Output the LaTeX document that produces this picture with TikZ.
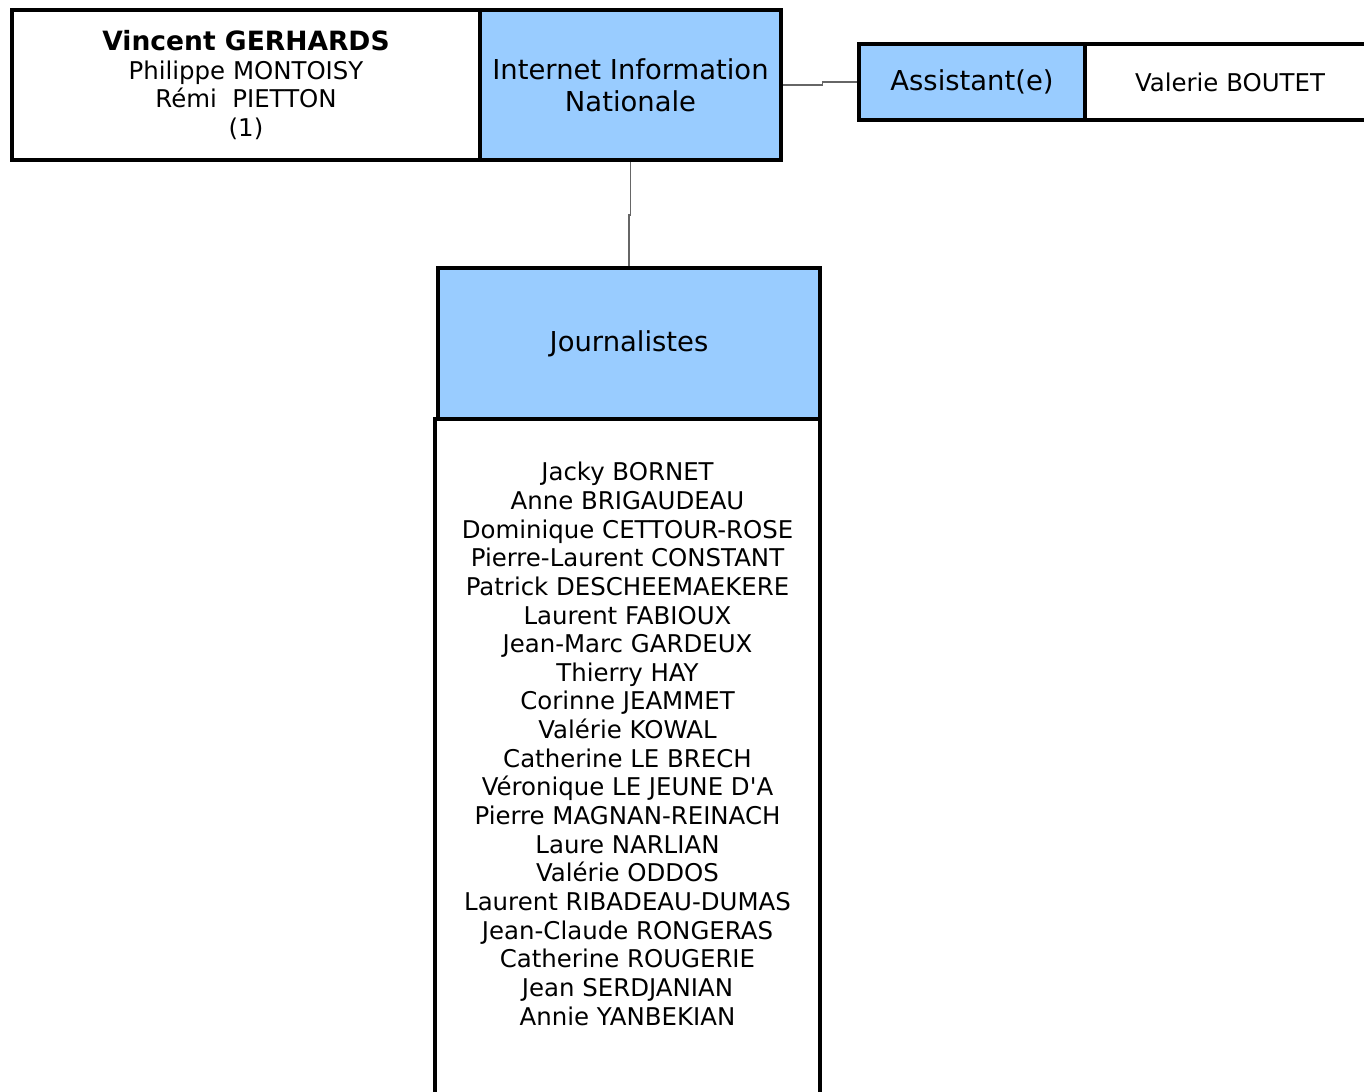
\documentclass[tikz,border=0pt]{standalone}
\usepackage{fontspec}
\setmainfont{DejaVu Sans}
\usetikzlibrary{positioning}
\definecolor{boxblue}{HTML}{99CCFF}
\tikzset{
  box/.style={draw=black, line width=2.3pt, inner sep=0pt, align=center},
  bluebox/.style={box, fill=boxblue},
  link/.style={draw=gray!80!black, line width=0.6pt},
  bigtxt/.style={font=\fontsize{15.6}{18.1}\selectfont},
  smalltxt/.style={font=\fontsize{13.9}{16.3}\selectfont}
}
\begin{document}
\begin{tikzpicture}
\useasboundingbox (0,0) rectangle (27.28,-21.82);
% top row
\node (chef) [box, smalltxt, minimum width=9.36cm, minimum height=3cm] at (4.92,-1.7)
  {\textbf{\fontsize{15.1}{16.3}\selectfont Vincent GERHARDS}\\Philippe MONTOISY\\Rémi\ \ PIETTON\\(1)};
\node (iin) [bluebox, bigtxt, minimum width=6.02cm, minimum height=3cm] at (12.61,-1.7)
  {Internet Information\\Nationale};
\node (asst) [bluebox, bigtxt, minimum width=4.52cm, minimum height=1.52cm] at (19.44,-1.64)
  {Assistant(e)};
\node (valerie) [box, smalltxt, minimum width=5.8cm, minimum height=1.52cm, right=-2.3pt of asst]
  {Valerie BOUTET};
% journalistes
\node (journ) [bluebox, bigtxt, minimum width=7.64cm, minimum height=3.02cm] at (12.58,-6.87)
  {Journalistes};
\node (listbox) [box, minimum width=7.7cm, minimum height=14cm, anchor=north east, yshift=2.3pt] at (journ.south east) {};
\node (names) [smalltxt, align=center, anchor=north] at (12.55,-9.12)
  {Jacky BORNET\\Anne BRIGAUDEAU\\Dominique CETTOUR-ROSE\\Pierre-Laurent CONSTANT\\
   Patrick DESCHEEMAEKERE\\Laurent FABIOUX\\Jean-Marc GARDEUX\\Thierry HAY\\
   Corinne JEAMMET\\Valérie KOWAL\\Catherine LE BRECH\\Véronique LE JEUNE D\textquotesingle A\\
   Pierre MAGNAN-REINACH\\Laure NARLIAN\\Valérie ODDOS\\Laurent RIBADEAU-DUMAS\\
   Jean-Claude RONGERAS\\Catherine ROUGERIE\\Jean SERDJANIAN\\Annie YANBEKIAN};
% connectors
\draw[link] (iin.south) -- ++(0,-1.06) -| (journ.north);
\draw[link] (iin.east) -- ++(0.78,0) |- (asst.west);
\end{tikzpicture}
\end{document}
